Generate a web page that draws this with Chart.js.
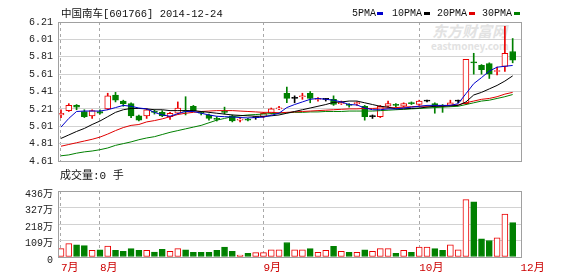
<!DOCTYPE html>
<html>
<head>
<meta charset="utf-8">
<script src="https://cdn.jsdelivr.net/npm/chart.js@4.4.1/dist/chart.umd.min.js"></script>
<style>
  html, body { margin: 0; padding: 0; background: #fff; }
  #wrap { position: relative; width: 578px; height: 276px; overflow: hidden;
          font-family: 'Liberation Mono', 'Noto Sans CJK SC', monospace; }
  canvas { position: absolute; left: 0; }
  .txt { position: absolute; white-space: pre; font-size: 10px; line-height: 12px; color: #111; }
  .key { position: absolute; width: 6px; height: 3px; }
  .wm { position: absolute; white-space: pre; color: #e2e2e2; font-family: 'Noto Sans CJK SC', sans-serif; font-weight: bold; }
</style>
</head>
<body>
<div id="wrap">
  <div class="wm" style="left:432px;top:22px;font-size:15px;line-height:18px;font-style:italic;">东方财富网</div>
  <div class="wm" style="left:431px;top:40px;font-size:10px;line-height:11px;">eastmoney.com</div>

  <canvas id="price" width="578" height="172" style="top:0"></canvas>
  <canvas id="vol" width="578" height="96" style="top:180px"></canvas>

  <div class="txt" style="left:61px;top:8px;font-size:10.5px;">中国南车[601766] 2014-12-24</div>

  <div class="txt" style="left:352px;top:8px;">5PMA</div>
  <div class="key" style="left:377px;top:12px;background:#0000cc;"></div>
  <div class="txt" style="left:392px;top:8px;">10PMA</div>
  <div class="key" style="left:424px;top:12px;background:#000;"></div>
  <div class="txt" style="left:437px;top:8px;">20PMA</div>
  <div class="key" style="left:469px;top:12px;background:#e00000;"></div>
  <div class="txt" style="left:482px;top:8px;">30PMA</div>
  <div class="key" style="left:514px;top:12px;background:#008000;"></div>

  <div class="txt" style="left:60px;top:170px;font-size:11px;line-height:13px;">成交量:0 手</div>
</div>

<script>
// =============================================================================
// Data (one entry per trading day)
// =============================================================================

const openP = [5.14, 5.19, 5.25, 5.18, 5.13, 5.18, 5.21, 5.37, 5.30, 5.27,
  5.13, 5.13, 5.18, 5.17, 5.12, 5.16, 5.19, 5.24, 5.17, 5.14,
  5.10, 5.18, 5.13, 5.08, 5.09, 5.11, 5.12, 5.16, 5.21, 5.39,
  5.33, 5.35, 5.39, 5.32, 5.32, 5.32, 5.27, 5.26, 5.27, 5.24,
  5.12, 5.12, 5.24, 5.26, 5.24, 5.28, 5.26, 5.30, 5.27, 5.25,
  5.25, 5.30, 5.27, 5.75, 5.71, 5.73, 5.64, 5.70, 5.87];

const closeP = [5.16, 5.25, 5.23, 5.12, 5.19, 5.16, 5.36, 5.31, 5.27, 5.13,
  5.08, 5.20, 5.17, 5.13, 5.16, 5.22, 5.18, 5.19, 5.16, 5.10,
  5.09, 5.17, 5.07, 5.09, 5.08, 5.11, 5.16, 5.21, 5.22, 5.33,
  5.33, 5.36, 5.33, 5.33, 5.32, 5.26, 5.28, 5.25, 5.28, 5.12,
  5.12, 5.24, 5.27, 5.25, 5.27, 5.27, 5.30, 5.30, 5.24, 5.24,
  5.28, 5.30, 5.78, 5.74, 5.66, 5.61, 5.65, 5.85, 5.77];

const highP = [5.20, 5.27, 5.26, 5.20, 5.20, 5.20, 5.39, 5.40, 5.31, 5.28,
  5.14, 5.21, 5.20, 5.19, 5.17, 5.29, 5.35, 5.25, 5.18, 5.15,
  5.12, 5.23, 5.14, 5.11, 5.10, 5.12, 5.17, 5.22, 5.24, 5.46,
  5.36, 5.39, 5.41, 5.34, 5.33, 5.36, 5.30, 5.27, 5.29, 5.25,
  5.14, 5.25, 5.30, 5.27, 5.28, 5.29, 5.31, 5.31, 5.28, 5.26,
  5.31, 5.31, 5.78, 5.85, 5.72, 5.74, 5.69, 6.16, 6.02];

const lowP = [5.11, 5.18, 5.20, 5.11, 5.10, 5.15, 5.20, 5.29, 5.24, 5.11,
  5.07, 5.10, 5.15, 5.12, 5.09, 5.15, 5.14, 5.18, 5.14, 5.08,
  5.07, 5.15, 5.06, 5.06, 5.07, 5.09, 5.11, 5.15, 5.20, 5.28,
  5.28, 5.32, 5.28, 5.30, 5.30, 5.25, 5.26, 5.23, 5.25, 5.08,
  5.10, 5.11, 5.23, 5.23, 5.23, 5.26, 5.25, 5.29, 5.16, 5.17,
  5.24, 5.28, 5.26, 5.61, 5.61, 5.56, 5.60, 5.64, 5.74];

// volume in 万手
const volume = [55, 88, 81, 75, 44, 48, 72, 44, 37, 55,
  44, 44, 33, 50, 37, 55, 48, 31, 31, 31,
  44, 65, 37, 13, 24, 29, 29, 48, 48, 96,
  48, 48, 55, 31, 44, 70, 37, 31, 31, 48,
  37, 55, 55, 24, 44, 31, 65, 65, 55, 44,
  81, 48, 379, 364, 120, 109, 127, 284, 227];

const ma5 = [5.00, 5.10, 5.18, 5.185, 5.185, 5.185, 5.20, 5.225, 5.25, 5.24,
  5.22, 5.21, 5.17, 5.14, 5.125, 5.155, 5.18, 5.18, 5.16, 5.14,
  5.125, 5.12, 5.117, 5.11, 5.106, 5.11, 5.115, 5.136, 5.16, 5.225,
  5.26, 5.29, 5.32, 5.33, 5.32, 5.31, 5.29, 5.26, 5.255, 5.22,
  5.20, 5.20, 5.21, 5.21, 5.22, 5.23, 5.24, 5.25, 5.25, 5.25,
  5.25, 5.27, 5.385, 5.50, 5.57, 5.645, 5.69, 5.70, 5.71];

const ma10 = [4.87, 4.91, 4.95, 4.985, 5.03, 5.07, 5.12, 5.17, 5.20, 5.215,
  5.215, 5.21, 5.20, 5.20, 5.19, 5.19, 5.19, 5.19, 5.18, 5.17,
  5.16, 5.15, 5.14, 5.135, 5.13, 5.125, 5.125, 5.13, 5.14, 5.16,
  5.18, 5.20, 5.22, 5.24, 5.26, 5.285, 5.29, 5.30, 5.30, 5.28,
  5.26, 5.24, 5.23, 5.21, 5.21, 5.215, 5.22, 5.23, 5.24, 5.24,
  5.245, 5.25, 5.29, 5.37, 5.40, 5.44, 5.48, 5.53, 5.59];

const ma20 = [4.78, 4.80, 4.82, 4.84, 4.86, 4.885, 4.92, 4.96, 4.995, 5.02,
  5.03, 5.06, 5.075, 5.095, 5.12, 5.145, 5.16, 5.17, 5.18, 5.185,
  5.19, 5.19, 5.19, 5.185, 5.18, 5.175, 5.17, 5.17, 5.165, 5.17,
  5.175, 5.18, 5.185, 5.19, 5.195, 5.20, 5.205, 5.21, 5.21, 5.215,
  5.215, 5.22, 5.22, 5.225, 5.23, 5.235, 5.24, 5.24, 5.245, 5.245,
  5.25, 5.255, 5.28, 5.30, 5.32, 5.33, 5.35, 5.38, 5.40];

const ma30 = [4.67, 4.68, 4.70, 4.715, 4.725, 4.74, 4.76, 4.79, 4.81, 4.83,
  4.855, 4.875, 4.89, 4.915, 4.94, 4.96, 4.98, 5.00, 5.02, 5.05,
  5.08, 5.10, 5.12, 5.13, 5.14, 5.145, 5.15, 5.155, 5.16, 5.165,
  5.17, 5.17, 5.175, 5.175, 5.18, 5.18, 5.18, 5.185, 5.185, 5.185,
  5.185, 5.19, 5.195, 5.20, 5.205, 5.21, 5.215, 5.22, 5.225, 5.23,
  5.235, 5.24, 5.26, 5.28, 5.30, 5.31, 5.33, 5.35, 5.375];

// month boundaries (day index) and their labels
const monthIdx = [0, 5, 26, 46, 59];
const monthLabels = ['7月', '8月', '9月', '10月', '12月'];

const priceTicks = [4.61, 4.81, 5.01, 5.21, 5.41, 5.61, 5.81, 6.01, 6.21];
const volTicks = [0, 109, 218, 327, 436];

// =============================================================================
// Styling
// =============================================================================

const COLORS = {
  up: 'rgb(235, 0, 0)',
  down: 'rgb(0, 128, 0)',
  flat: '#000',
  ma5: '#0000cc',
  ma10: '#000000',
  ma20: '#e00000',
  ma30: '#008000',
  grid: '#d2d2d2',
  dash: '#a8a8a8',
  frame: '#a0a0a0',
  month: '#cc0000',
  text: '#222'
};
const FONT = "'Liberation Mono', 'Noto Sans CJK SC', monospace";
const X_MIN = -0.385;
const X_MAX = 59.07;

/**
 * Candle colour: red when it closed up, green when down, black for a doji
 */
function candleColor(i) {
  if (closeP[i] > openP[i]) return COLORS.up;
  if (closeP[i] < openP[i]) return COLORS.down;
  return COLORS.flat;
}

const points = arr => arr.map((y, i) => ({ x: i, y }));

// Grey box round the plot area
const framePlugin = {
  id: 'frame',
  afterDraw(chart) {
    const { ctx, chartArea: a } = chart;
    ctx.save();
    ctx.strokeStyle = COLORS.frame;
    ctx.lineWidth = 1;
    ctx.strokeRect(Math.round(a.left) + 0.5, Math.round(a.top) + 0.5,
      Math.round(a.right) - Math.round(a.left), Math.round(a.bottom) - Math.round(a.top));
    ctx.restore();
  }
};

/**
 * Shared x axis: one unit per trading day, dashed lines at month starts
 * (offset switched off, bar charts turn it on by default)
 */
function dayAxis(showLabels) {
  return {
    type: 'linear',
    min: X_MIN,
    max: X_MAX,
    offset: false,
    afterBuildTicks: s => { s.ticks = monthIdx.map(v => ({ value: v })); },
    afterFit: s => { s.height = showLabels ? 19 : 0; },
    border: { display: false, dash: [3, 3] },
    grid: {
      offset: false,
      drawTicks: false,
      color: ctx => (ctx.tick && ctx.tick.value === monthIdx[monthIdx.length - 1]) ? 'rgba(0,0,0,0)' : COLORS.dash
    },
    ticks: {
      display: showLabels,
      align: 'start',
      padding: 4,
      color: COLORS.month,
      font: { family: FONT, size: 11 },
      callback: v => monthLabels[monthIdx.indexOf(v)] || ''
    }
  };
}

function valueAxis(min, max, ticks, fmt, labelOffset) {
  return {
    type: 'linear',
    min,
    max,
    beginAtZero: false,
    afterBuildTicks: s => { s.ticks = ticks.map(v => ({ value: v })); },
    afterFit: s => { s.width = 58; },
    border: { display: false },
    grid: { drawTicks: false, color: COLORS.grid },
    ticks: {
      padding: 5,
      labelOffset,
      color: COLORS.text,
      font: { family: FONT, size: 10 },
      callback: fmt
    }
  };
}

function maLine(label, data, color) {
  return {
    type: 'line',
    label,
    data: points(data),
    borderColor: color,
    borderWidth: 1,
    pointRadius: 0,
    tension: 0,
    order: 1
  };
}

const baseOptions = {
  responsive: false,
  animation: false,
  events: [],
  devicePixelRatio: 1,
  plugins: { legend: { display: false }, tooltip: { enabled: false } }
};

// =============================================================================
// K-line chart
// =============================================================================

new Chart(document.getElementById('price'), {
  type: 'bar',
  data: {
    datasets: [
      maLine('5PMA', ma5, COLORS.ma5),
      maLine('10PMA', ma10, COLORS.ma10),
      maLine('20PMA', ma20, COLORS.ma20),
      maLine('30PMA', ma30, COLORS.ma30),
      {
        label: 'body',
        data: closeP.map((c, i) => ({ x: i, y: [openP[i], c] })),
        backgroundColor: closeP.map((c, i) => (c > openP[i] ? '#fff' : candleColor(i))),
        borderColor: closeP.map((c, i) => candleColor(i)),
        borderWidth: 1,
        borderSkipped: false,
        barThickness: 6,
        minBarLength: 1,
        grouped: false,
        order: 5
      },
      {
        label: 'wick',
        data: highP.map((h, i) => ({ x: i, y: [lowP[i], h] })),
        backgroundColor: closeP.map((c, i) => candleColor(i)),
        borderWidth: 0,
        barThickness: 1,
        grouped: false,
        order: 6
      }
    ]
  },
  options: {
    ...baseOptions,
    layout: { padding: { left: 0, right: 57, top: 22, bottom: 8 } },
    scales: {
      x: dayAxis(false),
      y: valueAxis(4.61, 6.21, priceTicks, v => v.toFixed(2), 0)
    }
  },
  plugins: [framePlugin]
});

// =============================================================================
// Volume chart
// =============================================================================

const volUp = volume.map((v, i) => closeP[i] >= openP[i]);

new Chart(document.getElementById('vol'), {
  type: 'bar',
  data: {
    datasets: [{
      label: '成交量',
      data: points(volume),
      backgroundColor: volUp.map(u => (u ? '#fff' : COLORS.down)),
      borderColor: volUp.map(u => (u ? COLORS.up : COLORS.down)),
      borderWidth: 1,
      borderSkipped: false,
      barThickness: 6,
      grouped: false
    }]
  },
  options: {
    ...baseOptions,
    layout: { padding: { left: 0, right: 57, top: 10, bottom: 0 } },
    scales: {
      x: dayAxis(true),
      y: valueAxis(0, 436, volTicks, v => (v === 0 ? '0' : v + '万'), 3)
    }
  },
  plugins: [framePlugin]
});
</script>
</body>
</html>
